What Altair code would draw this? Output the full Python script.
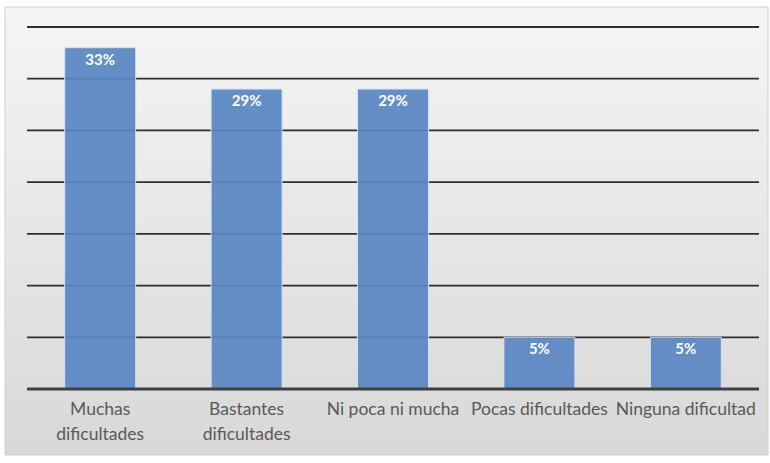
import altair as alt
import pandas as pd

# Survey answers and their shares
categories = ["Muchas dificultades", "Bastantes dificultades", "Ni poca ni mucha",
              "Pocas dificultades", "Ninguna dificultad"]
label_lines = [["Muchas", "dificultades"], ["Bastantes", "dificultades"],
               ["Ni poca ni mucha"], ["Pocas dificultades"], ["Ninguna dificultad"]]
shares = [0.33, 0.29, 0.29, 0.05, 0.05]
grid_values = [0.05, 0.10, 0.15, 0.20, 0.25, 0.30, 0.35]

df = pd.DataFrame({"categoria": categories, "valor": shares})

W, H = 732, 362
FONT = "Lato"

# Multi-line axis labels
label_expr = " : ".join(
    f"datum.value == '{c}' ? {lines!r}" for c, lines in zip(categories, label_lines)
) + " : datum.value"

x_enc = alt.X(
    "categoria:N",
    sort=categories,
    scale=alt.Scale(paddingInner=0.515, paddingOuter=0.2575),
    axis=alt.Axis(
        title=None, labelAngle=0, labelExpr=label_expr, domain=False, ticks=False,
        labelFont=FONT, labelFontSize=17.5, labelColor="#595959",
        labelPadding=11, labelLineHeight=25, labelBaseline="top", zindex=2,
    ),
)
y_scale = alt.Scale(domain=[0, 0.35], nice=False, zero=True)

# Panel with a soft vertical gradient behind everything
panel = alt.Chart(pd.DataFrame({"k": [0]})).mark_rect(
    fill=alt.Gradient(
        gradient="linear", x1=0, x2=0, y1=0, y2=1,
        stops=[alt.GradientStop(color="#f5f5f5", offset=0),
               alt.GradientStop(color="#d8d8d8", offset=1)],
    ),
    stroke="#cfcfcf", strokeWidth=1,
).encode(x=alt.value(-22), x2=alt.value(W + 9), y=alt.value(-20), y2=alt.value(H + 66))

gridlines = alt.Chart(pd.DataFrame({"g": grid_values})).mark_rule(
    color="#2e2e2e", strokeWidth=1.8
).encode(
    y=alt.Y("g:Q", scale=y_scale, axis=None),
    x=alt.value(0), x2=alt.value(W),
)

base = alt.Chart(df)

bars = base.mark_bar(
    color="#5a87c3", opacity=0.93, stroke="#d6e3f3", strokeWidth=1
).encode(
    x=x_enc,
    y=alt.Y("valor:Q", scale=y_scale, axis=None),
)

baseline = alt.Chart(pd.DataFrame({"g": [0.0]})).mark_rule(
    color="#404040", strokeWidth=2.8
).encode(
    y=alt.Y("g:Q", scale=y_scale, axis=None),
    x=alt.value(0), x2=alt.value(W),
)

labels = base.mark_text(
    color="white", font=FONT, fontSize=15, fontWeight="bold",
    baseline="top", dy=5,
).encode(
    x=x_enc,
    y=alt.Y("valor:Q", scale=y_scale, axis=None),
    text=alt.Text("valor:Q", format=".0%"),
)

chart = alt.layer(panel, gridlines, bars, baseline, labels).properties(
    width=W, height=H,
    autosize=alt.AutoSizeParams(type="none"),
    padding={"left": 27, "top": 27, "right": 11, "bottom": 74},
    background="white",
).configure_view(stroke=None)

chart.save("out.html", embed_options={"renderer": "svg", "actions": False})
